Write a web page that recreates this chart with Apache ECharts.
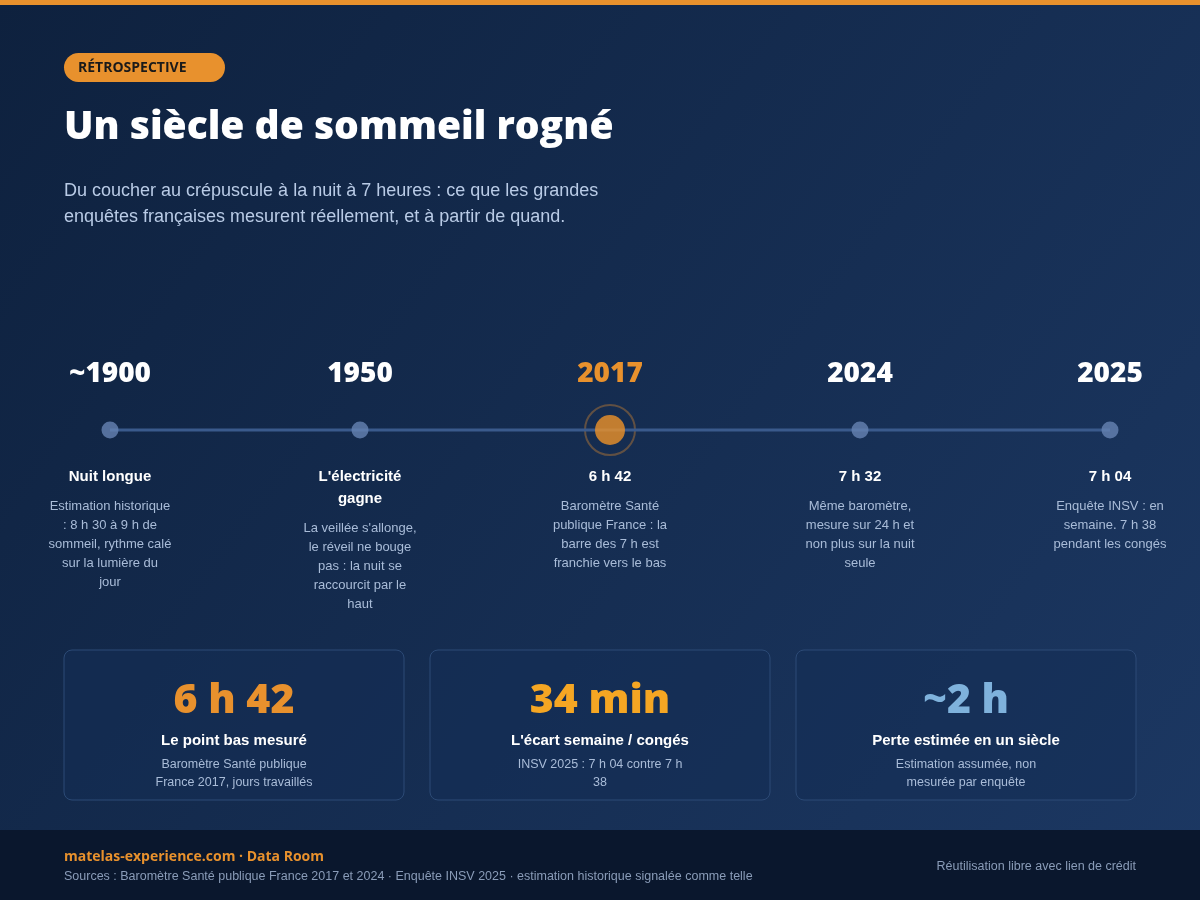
<!DOCTYPE html>
<html><head><meta charset="utf-8">
<script src="https://cdn.jsdelivr.net/npm/echarts@6/dist/echarts.min.js"></script>
<style>html,body{margin:0;padding:0;background:#10223f}#c{width:1200px;height:900px}</style>
</head><body><div id="c"></div>
<script>
// timeline data
var years = ['~1900', '1950', '2017', '2024', '2025'];
var stepTitles = ['Nuit longue', "L'électricité\ngagne", '6 h 42', '7 h 32', '7 h 04'];
var stepNotes = [
  'Estimation historique\n: 8 h 30 à 9 h de\nsommeil, rythme calé\nsur la lumière du\njour',
  "La veillée s'allonge,\nle réveil ne bouge\npas : la nuit se\nraccourcit par le\nhaut",
  'Baromètre Santé\npublique France : la\nbarre des 7 h est\nfranchie vers le bas',
  'Même baromètre,\nmesure sur 24 h et\nnon plus sur la nuit\nseule',
  'Enquête INSV : en\nsemaine. 7 h 38\npendant les congés'
];
var highlight = 2;

// key figure cards
var cardValues = ['6 h 42', '34 min', '~2 h'];
var cardColors = ['#e8912d', '#f5a623', '#7fb2dc'];
var cardLabels = ['Le point bas mesuré', "L'écart semaine / congés", 'Perte estimée en un siècle'];
var cardNotes = ['Baromètre Santé publique\nFrance 2017, jours travaillés', 'INSV 2025 : 7 h 04 contre 7 h\n38', 'Estimation assumée, non\nmesurée par enquête'];

var chart = echarts.init(document.getElementById('c'));
var sans = '"Liberation Sans", Arial, sans-serif';
var heavy = '"Open Sans", "Noto Sans", sans-serif';

var pts = years.map(function (y, i) { return [i, 0]; });

chart.setOption({
  backgroundColor: new echarts.graphic.LinearGradient(0, 0, 1, 1, [
    { offset: 0, color: '#0e213e' }, { offset: 1, color: '#1c3863' }]),
  grid: { left: 110, right: 90, top: 380, bottom: 420 },
  xAxis: { type: 'value', min: 0, max: 4, show: false },
  yAxis: { type: 'value', min: -1, max: 1, show: false },
  series: [
    { type: 'line', data: pts, symbol: 'none', silent: true,
      lineStyle: { color: '#3a5a8c', width: 3 } },
    { type: 'scatter', silent: true, z: 3,
      data: pts.map(function (p, i) {
        return { value: p, symbolSize: i === highlight ? 30 : 17,
          itemStyle: i === highlight ? { color: '#ee9228' } : { color: '#6683b3' } };
      })
    },
    { type: 'scatter', silent: true, z: 2, data: [pts[highlight]], symbolSize: 50,
      itemStyle: { color: 'transparent', borderColor: 'rgba(232,145,45,0.45)', borderWidth: 2 } }
  ]
});

function build() {
  var g = [];
  g.push({ type: 'rect', shape: { x: 0, y: 0, width: 1200, height: 5 }, style: { fill: '#e8912d' } });
  g.push({ type: 'rect', shape: { x: 0, y: 830, width: 1200, height: 70 }, style: { fill: '#0a172d' } });
  g.push({ type: 'rect', shape: { x: 64, y: 53, width: 161, height: 29, r: 14.5 }, style: { fill: '#e8912d' } });
  g.push({ type: 'text', x: 78, y: 68, style: { text: 'RÉTROSPECTIVE', fill: '#1a1a1a', font: 'bold 14px ' + heavy, verticalAlign: 'middle' } });
  g.push({ type: 'text', x: 64, y: 128, style: { text: 'Un siècle de sommeil rogné', fill: '#ffffff', font: '800 39px ' + heavy, verticalAlign: 'middle' } });
  g.push({ type: 'text', x: 64, y: 178, style: { text: 'Du coucher au crépuscule à la nuit à 7 heures : ce que les grandes\nenquêtes françaises mesurent réellement, et à partir de quand.', fill: '#b9cbe6', font: '18px ' + sans, lineHeight: 26 } });

  years.forEach(function (y, i) {
    var x = chart.convertToPixel({ gridIndex: 0 }, [i, 0])[0];
    var hl = i === highlight;
    g.push({ type: 'text', x: x, y: 374, style: { text: y, fill: hl ? '#e8912d' : '#ffffff', font: '800 28px ' + heavy, align: 'center', verticalAlign: 'middle' } });
    g.push({ type: 'text', x: x, y: 466, style: { text: stepTitles[i], fill: '#ffffff', font: 'bold 15px ' + sans, align: 'center', lineHeight: 22 } });
    var lines = stepTitles[i].split('\n').length;
    g.push({ type: 'text', x: x, y: 466 + lines * 22 + 9, style: { text: stepNotes[i], fill: '#a9bcd8', font: '13px ' + sans, align: 'center', lineHeight: 19 } });
  });

  var cx = [64, 430, 796];
  cardValues.forEach(function (v, i) {
    var x0 = cx[i], mid = x0 + 170;
    g.push({ type: 'rect', shape: { x: x0, y: 650, width: 340, height: 150, r: 8 }, style: { fill: 'rgba(20,45,85,0.55)', stroke: '#2c4a76', lineWidth: 1 } });
    g.push({ type: 'text', x: mid, y: 701, style: { text: v, fill: cardColors[i], font: '800 41px ' + heavy, align: 'center', verticalAlign: 'middle' } });
    g.push({ type: 'text', x: mid, y: 741, style: { text: cardLabels[i], fill: '#ffffff', font: 'bold 15px ' + sans, align: 'center', verticalAlign: 'middle' } });
    g.push({ type: 'text', x: mid, y: 756, style: { text: cardNotes[i], fill: '#a9bcd8', font: '12.5px ' + sans, align: 'center', lineHeight: 18 } });
  });

  g.push({ type: 'text', x: 64, y: 857, style: { text: 'matelas-experience.com · Data Room', fill: '#e8912d', font: 'bold 14px ' + heavy, verticalAlign: 'middle' } });
  g.push({ type: 'text', x: 64, y: 877, style: { text: 'Sources : Baromètre Santé publique France 2017 et 2024 · Enquête INSV 2025 · estimation historique signalée comme telle', fill: '#8a9cb8', font: '12.5px ' + sans, verticalAlign: 'middle' } });
  g.push({ type: 'text', x: 1136, y: 867, style: { text: 'Réutilisation libre avec lien de crédit', fill: '#8a9cb8', font: '12.5px ' + sans, align: 'right', verticalAlign: 'middle' } });
  chart.setOption({ graphic: g });
}
build();
</script></body></html>
